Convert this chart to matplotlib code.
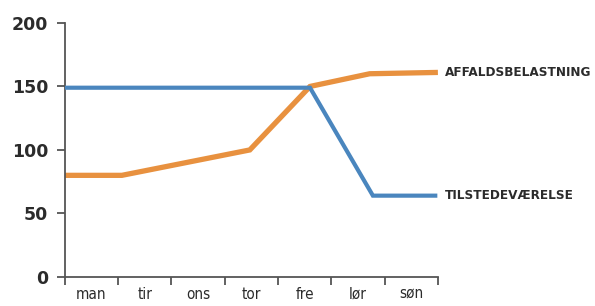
import matplotlib.pyplot as plt
import numpy as np

days = ['man', 'tir', 'ons', 'tor', 'fre', 'lør', 'søn']
yticks = [0, 50, 100, 150, 200]

# x in day units (0 = start of man, 7 = end of søn)
affald_x = [0, 1.07, 3.47, 4.6, 5.72, 6.95]
affald_y = [80, 80, 100, 150, 160, 161]
tilst_x = [0, 4.6, 5.78, 6.95]
tilst_y = [149, 149, 64, 64]

orange = '#E8913F'
blue = '#4A86BE'
axcol = '#555555'
txtcol = '#2b2b2b'

fig = plt.figure(figsize=(5.95, 3.06), dpi=100)
ax = fig.add_axes([0.109, 0.095, 0.627, 0.83])

ax.plot(tilst_x, tilst_y, color=blue, lw=3.0, solid_joinstyle='miter', zorder=3)
ax.plot(affald_x, affald_y, color=orange, lw=3.8, solid_joinstyle='miter', zorder=2)

ax.set_xlim(0, 7)
ax.set_ylim(0, 200)

ax.spines['top'].set_visible(False)
ax.spines['right'].set_visible(False)
for s in ['left', 'bottom']:
    ax.spines[s].set_color(axcol)
    ax.spines[s].set_linewidth(1.3)

ax.set_yticks(yticks)
ax.set_yticklabels([str(v) for v in yticks], fontsize=12.5, fontweight='bold',
                   color=txtcol, family='DejaVu Sans')
ax.tick_params(axis='y', length=6, width=1.3, color=axcol, pad=6)

ax.set_xticks(np.arange(0, 8))
ax.set_xticklabels([])
ax.set_xticks(np.arange(len(days)) + 0.5, minor=True)
ax.set_xticklabels(days, minor=True, fontsize=11, color=txtcol, family='DejaVu Sans',
                   fontstretch='condensed')
ax.tick_params(axis='x', which='major', length=6, width=1.3, color=axcol)
ax.tick_params(axis='x', which='minor', length=0, pad=7)

for name, y in [('AFFALDSBELASTNING', affald_y[-1]), ('TILSTEDEVÆRELSE', tilst_y[-1])]:
    ax.annotate(name, xy=(7, y), xytext=(5, 0), textcoords='offset points',
                va='center', ha='left', fontsize=9.6, fontweight='bold',
                color=txtcol, family='DejaVu Sans', fontstretch='condensed',
                annotation_clip=False)

fig.savefig('out.png', dpi=100)
